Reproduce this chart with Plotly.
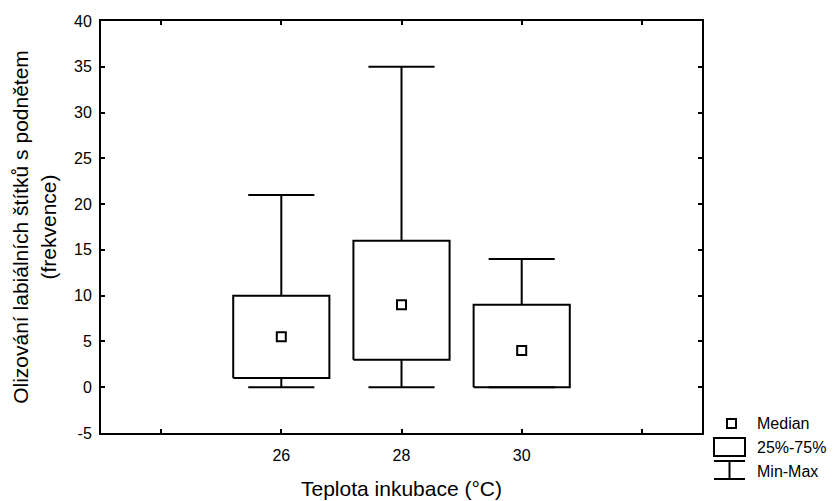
import plotly.graph_objects as go

# ---- data ----
temps = [26, 28, 30]
mins = [0, 0, 0]
q1 = [1, 3, 0]
medians = [5.5, 9, 4]
q3 = [10, 16, 9]
maxs = [21, 35, 14]

x_tickvals = [24, 26, 28, 30, 32]
x_ticktext = ["", "26", "28", "30", ""]
y_tickvals = [-5, 0, 5, 10, 15, 20, 25, 30, 35, 40]
y_ticktext = ["-5", "0", "5", "10", "15", "20", "25", "30", "35", "40"]

x_title = "Teplota inkubace (°C)"
y_title = "Olizování labiálních štítků s podnětem<br>(frekvence)"
legend_labels = ["Median", "25%-75%", "Min-Max"]

# ---- style ----
BOX_HW = 0.8
CAP_HW = 0.55
LW = 2
FONT = "Liberation Sans, Arial, sans-serif"

bx, by = [], []
wx, wy = [], []
for t, lo, a, b, hi in zip(temps, mins, q1, q3, maxs):
    bx += [t - BOX_HW, t + BOX_HW, t + BOX_HW, t - BOX_HW, t - BOX_HW, None]
    by += [a, a, b, b, a, None]
    # upper whisker + cap
    wx += [t, t, None, t - CAP_HW, t + CAP_HW, None]
    wy += [b, hi, None, hi, hi, None]
    # lower whisker + cap
    wx += [t, t, None, t - CAP_HW, t + CAP_HW, None]
    wy += [a, lo, None, lo, lo, None]

fig = go.Figure()
fig.add_trace(go.Scatter(x=wx, y=wy, mode="lines",
                         line=dict(color="black", width=LW), showlegend=False,
                         hoverinfo="skip"))
fig.add_trace(go.Scatter(x=bx, y=by, mode="lines",
                         line=dict(color="black", width=LW), showlegend=False,
                         hoverinfo="skip"))
fig.add_trace(go.Scatter(x=temps, y=medians, mode="markers",
                         marker=dict(symbol="square-open", size=9, color="black",
                                     line=dict(color="black", width=2)),
                         showlegend=False))

fig.update_xaxes(range=[23, 33], tickmode="array", tickvals=x_tickvals,
                 ticktext=x_ticktext, ticks="inside", ticklen=4, tickwidth=2,
                 tickcolor="black", showline=True, linecolor="black", linewidth=2,
                 mirror="ticks", showgrid=False, zeroline=False,
                 tickfont=dict(size=16, color="black", family=FONT),
                 ticklabelstandoff=7,
                 title=dict(text=x_title, font=dict(size=21, color="black", family=FONT),
                            standoff=18))
fig.update_yaxes(range=[-5, 40], tickmode="array", tickvals=y_tickvals,
                 ticktext=y_ticktext, ticks="inside", ticklen=4, tickwidth=2,
                 tickcolor="black", showline=True, linecolor="black", linewidth=2,
                 mirror="ticks", showgrid=False, zeroline=False,
                 tickfont=dict(size=16, color="black", family=FONT),
                 ticklabelstandoff=4,
                 title=dict(text=y_title, font=dict(size=21, color="black", family=FONT),
                            standoff=12))

# ---- custom legend (paper coords) ----
L, R, T, B = 101, 702, 21, 433
def px(x):
    return (x - L) / (R - L)
def py(y):
    return (B - y) / (B - T)

shapes = [
    dict(type="rect", xref="paper", yref="paper", x0=px(727), x1=px(736),
         y0=py(419), y1=py(428), line=dict(color="black", width=2)),
    dict(type="rect", xref="paper", yref="paper", x0=px(714), x1=px(745),
         y0=py(438), y1=py(456), line=dict(color="black", width=2)),
    dict(type="line", xref="paper", yref="paper", x0=px(714), x1=px(745),
         y0=py(461), y1=py(461), line=dict(color="black", width=2)),
    dict(type="line", xref="paper", yref="paper", x0=px(714), x1=px(745),
         y0=py(479), y1=py(479), line=dict(color="black", width=2)),
    dict(type="line", xref="paper", yref="paper", x0=px(729.5), x1=px(729.5),
         y0=py(461), y1=py(479), line=dict(color="black", width=2)),
]
ann = []
for lab, yy in zip(legend_labels, [423, 447, 471]):
    ann.append(dict(text=lab, xref="paper", yref="paper", x=px(755), y=py(yy),
                    xanchor="left", yanchor="middle", showarrow=False,
                    font=dict(size=16, color="black", family=FONT)))

fig.update_layout(width=833, height=501, plot_bgcolor="white", paper_bgcolor="white",
                  margin=dict(l=101, r=131, t=21, b=68, autoexpand=False),
                  shapes=shapes, annotations=ann, showlegend=False,
                  font=dict(family=FONT, color="black"))

fig.write_html("out.html")
